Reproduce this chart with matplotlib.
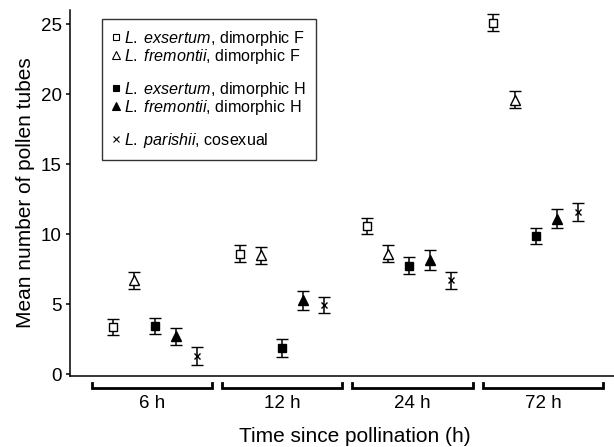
import matplotlib
matplotlib.use('Agg')
import matplotlib.pyplot as plt
from matplotlib.lines import Line2D

plt.rcParams['font.family'] = ['Liberation Sans', 'DejaVu Sans']
plt.rcParams['mathtext.fontset'] = 'custom'
plt.rcParams['mathtext.rm'] = 'Liberation Sans'
plt.rcParams['mathtext.it'] = 'Liberation Sans:italic'

# Time points and the five groups measured at each of them
times = ['6 h', '12 h', '24 h', '72 h']
groups = [
    r'$\it{L.\;exsertum}$, dimorphic F',
    r'$\it{L.\;fremontii}$, dimorphic F',
    r'$\it{L.\;exsertum}$, dimorphic H',
    r'$\it{L.\;fremontii}$, dimorphic H',
    r'$\it{L.\;parishii}$, cosexual',
]

# Mean number of pollen tubes per group, one value per time point
exsertum_f = [3.4, 8.6, 10.6, 25.1]
fremontii_f = [6.7, 8.5, 8.6, 19.6]
exsertum_h = [3.45, 1.85, 7.75, 9.85]
fremontii_h = [2.7, 5.3, 8.15, 11.1]
parishii = [1.3, 4.95, 6.7, 11.6]

# Standard errors
exsertum_f_err = [0.57, 0.6, 0.57, 0.6]
fremontii_f_err = [0.6, 0.6, 0.6, 0.6]
exsertum_h_err = [0.56, 0.64, 0.6, 0.57]
fremontii_h_err = [0.62, 0.68, 0.69, 0.68]
parishii_err = [0.65, 0.6, 0.63, 0.64]

means = [exsertum_f, fremontii_f, exsertum_h, fremontii_h, parishii]
errs = [exsertum_f_err, fremontii_f_err, exsertum_h_err, fremontii_h_err,
        parishii_err]

# marker, face colour, size for each group
styles = [
    ('s', 'white', 6),
    ('^', 'white', 7),
    ('s', 'black', 6),
    ('^', 'black', 7),
    ('x', 'black', 5),
]

fig = plt.figure(figsize=(6.14, 4.47), dpi=100)
ax = fig.add_axes([70 / 614, 71 / 447, 544 / 614, 366 / 447])

group_step = 6
for j, (vals, err, (mk, fc, ms)) in enumerate(zip(means, errs, styles)):
    xs = [g * group_step + j + 1 for g in range(len(times))]
    ax.errorbar(xs, vals, yerr=err, fmt=mk, mfc=fc, mec='black',
                color='black', ms=ms, mew=1.0, elinewidth=1.1,
                capsize=4.3, capthick=1.1, ecolor='black', zorder=3)

ax.set_xlim(-1.03, 24.7)
ax.set_ylim(-0.12, 26.0)
ax.set_yticks([0, 5, 10, 15, 20, 25])

for side in ['top', 'right']:
    ax.spines[side].set_visible(False)
ax.spines['left'].set_linewidth(1.1)
ax.spines['bottom'].set_linewidth(1.1)

ax.tick_params(axis='y', direction='out', length=3, width=1.1, pad=3,
               labelsize=13.5)

# brackets under the axis, one per time point
bracket_centers = [2.85, 9.0, 15.17, 21.34]
half_w = 2.84
trans = ax.get_xaxis_transform()
for c in bracket_centers:
    ax.plot([c - half_w, c - half_w, c + half_w, c + half_w],
            [-0.020, -0.032, -0.032, -0.020], color='black', lw=2.0,
            transform=trans, clip_on=False, solid_joinstyle='miter')

ax.set_xticks(bracket_centers)
ax.set_xticklabels(times)
ax.tick_params(axis='x', length=0, pad=14, labelsize=13.5)

ax.set_xlabel('Time since pollination (h)', fontsize=15)
ax.xaxis.set_label_coords(0.524, -0.14)
ax.set_ylabel('Mean number of pollen tubes', fontsize=15, labelpad=4)

# legend with blank rows between the F, H and cosexual blocks
handles = []
labels = []
for j, (mk, fc, ms) in enumerate(styles):
    handles.append(Line2D([], [], ls='none', marker=mk, mfc=fc, mec='black',
                          color='black', ms=ms * 0.8, mew=0.8))
    labels.append(groups[j])
    if j in (1, 3):
        handles.append(Line2D([], [], ls='none'))
        labels.append(' ')

leg = ax.legend(handles, labels, loc='upper left',
                bbox_to_anchor=(0.058, 0.975), borderaxespad=0,
                fontsize=11.6, frameon=True, fancybox=False, shadow=False,
                handlelength=0.6, handletextpad=0.2, borderpad=0.6,
                labelspacing=-0.08)
leg.get_frame().set_edgecolor('black')
leg.get_frame().set_linewidth(1.0)
for i in (2, 5):
    leg.get_texts()[i].set_fontsize(13)

fig.savefig('out.png', dpi=100)
